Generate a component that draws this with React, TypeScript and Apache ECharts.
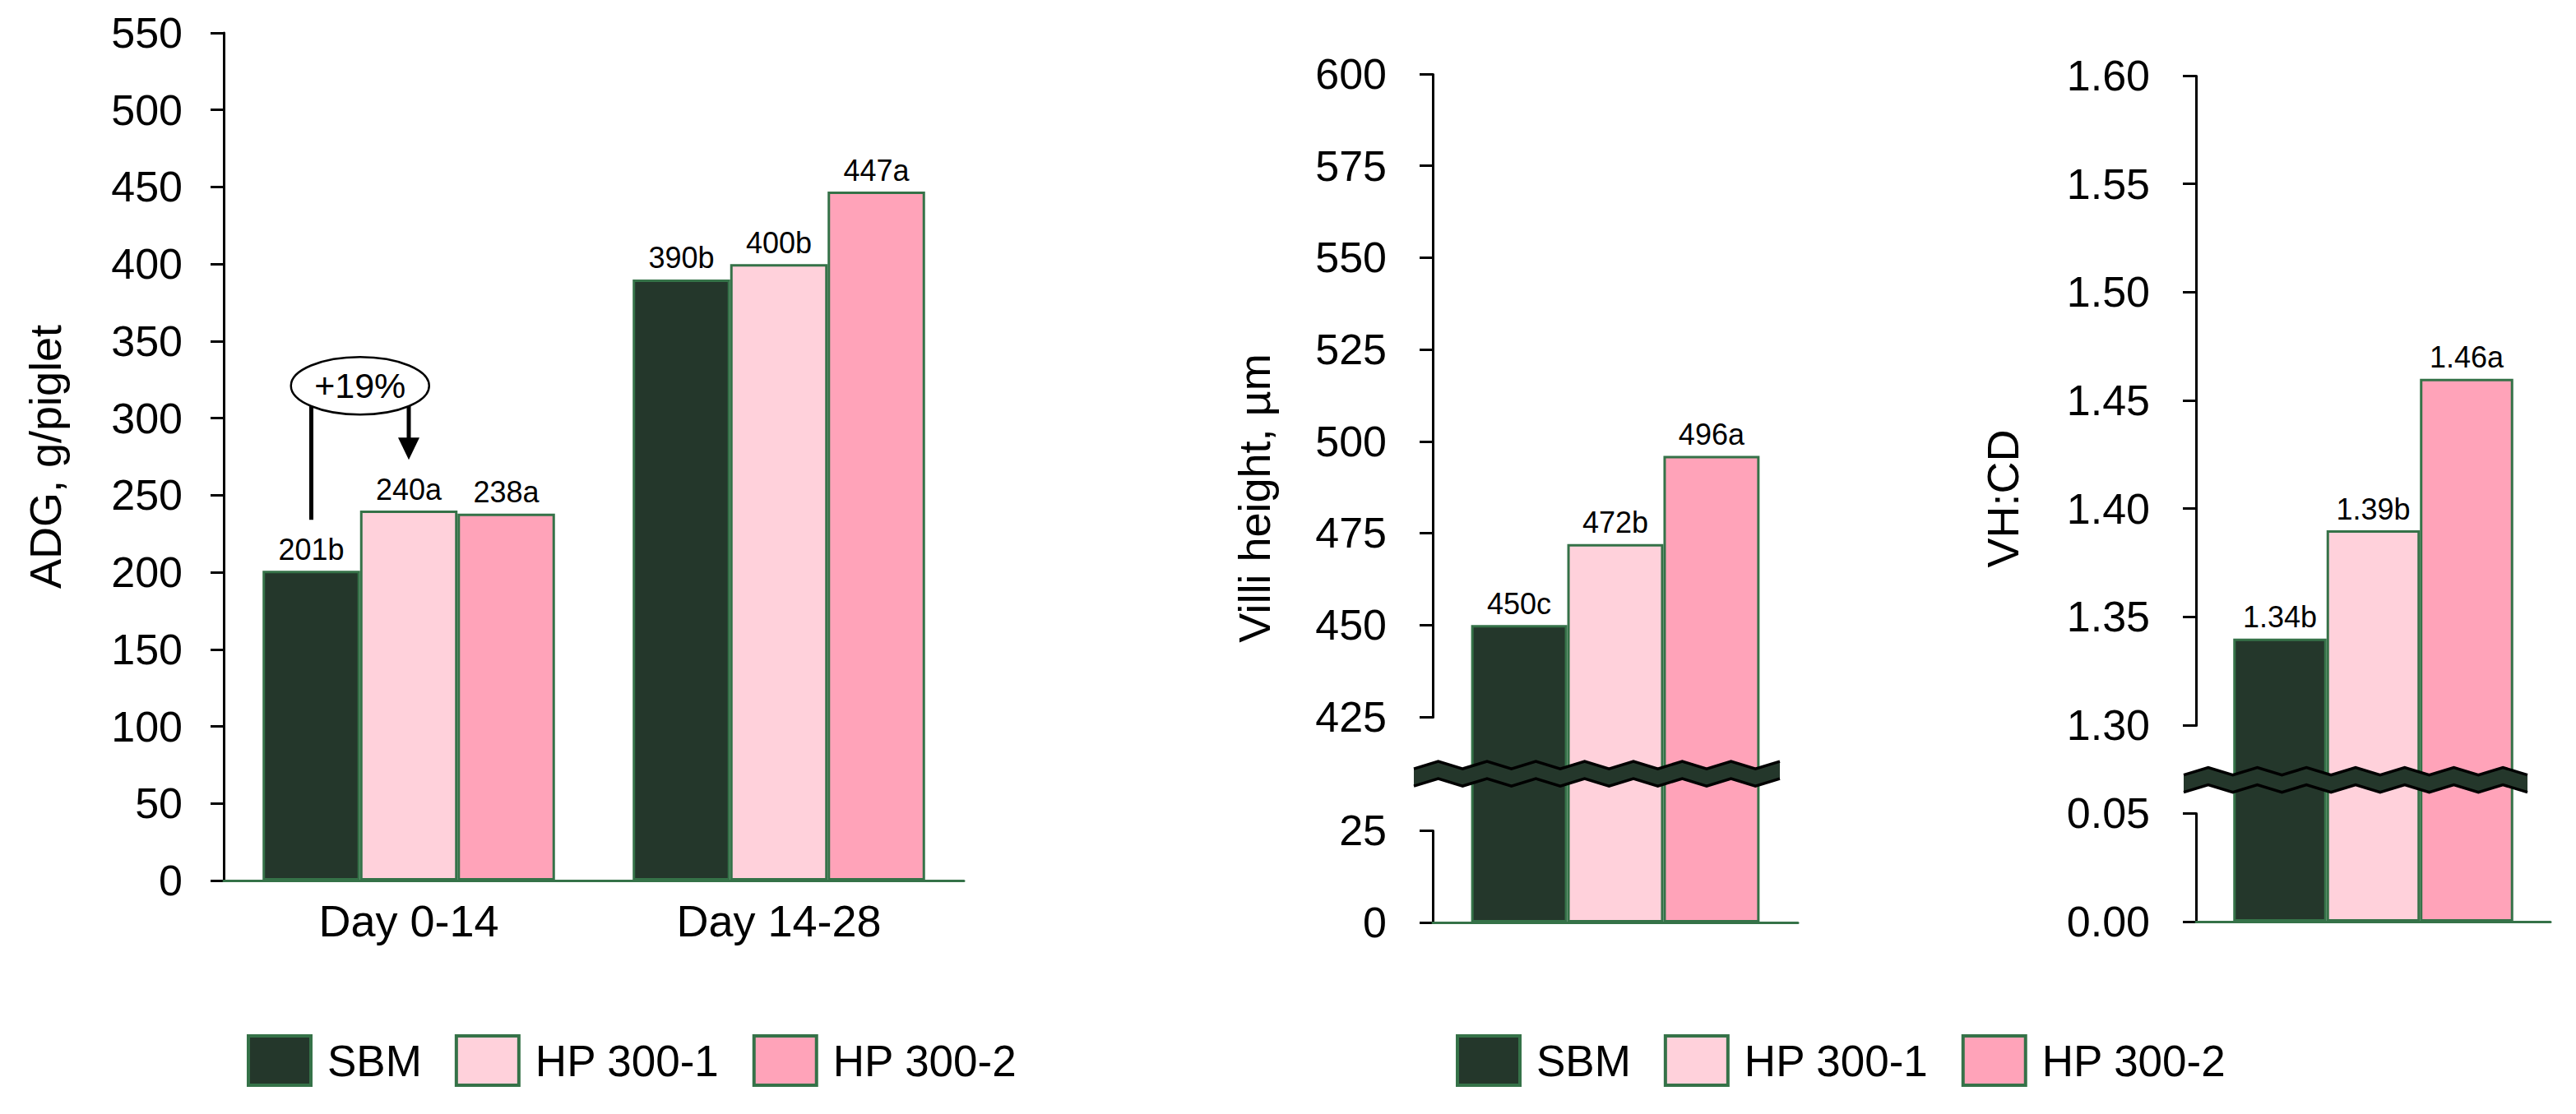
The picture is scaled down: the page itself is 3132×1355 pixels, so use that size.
import React, { useEffect, useRef } from 'react';
import * as echarts from 'echarts';

// ---------------- data ----------------
const seriesNames = ['SBM', 'HP 300-1', 'HP 300-2'];

const adgCategories = ['Day 0-14', 'Day 14-28'];
const adgSBM = [201, 390];
const adgHP1 = [240, 400];
const adgHP2 = [238, 447];
const adgLettersSBM = ['b', 'b'];
const adgLettersHP1 = ['a', 'b'];
const adgLettersHP2 = ['a', 'a'];

const villiCategories = [''];
const villiSBM = [450];
const villiHP1 = [472];
const villiHP2 = [496];
const villiLettersSBM = ['c'];
const villiLettersHP1 = ['b'];
const villiLettersHP2 = ['a'];

const vhcdCategories = [''];
const vhcdSBM = [1.34];
const vhcdHP1 = [1.39];
const vhcdHP2 = [1.46];
const vhcdLettersSBM = ['b'];
const vhcdLettersHP1 = ['b'];
const vhcdLettersHP2 = ['a'];

const axisNames = ['ADG, g/piglet', 'Villi height, µm', 'VH:CD'];
const adgScale = { min: 0, max: 550, interval: 50 };
const villiScale = { min: 0, max: 600, interval: 25, breakStart: 25, breakEnd: 425, gap: 31 };
const vhcdScale = { min: 0, max: 1.6, interval: 0.05, breakStart: 0.05, breakEnd: 1.3, gap: 0.0407 };

// annotation (ADG units)
const annotationText = '+19%';
const annotationCenterValue = 321;
const annotationLineEndValue = 234;
const annotationArrowTipValue = 273;

// ---------------- style ----------------
const FONT = '"Liberation Sans", Arial, sans-serif';
const FILLS = ['#24372b', '#ffd1db', '#ffa3b9'];
const BORDER = '#357248';

export default function App() {
  const ref = useRef<HTMLDivElement>(null);

  useEffect(() => {
    if (!ref.current) return;
    const chart = echarts.init(ref.current, null, { renderer: 'svg' });

    const bar = (name: string, idx: number, data: number[], letters: string[], color: string, digits: number) => ({
      type: 'bar',
      name,
      xAxisIndex: idx,
      yAxisIndex: idx,
      data,
      barGap: '0%',
      barCategoryGap: '21%',
      itemStyle: { color, borderColor: BORDER, borderWidth: 3 },
      label: {
        show: true,
        position: 'top',
        distance: 8,
        fontSize: 36,
        color: '#000',
        fontFamily: FONT,
        formatter: (p: any) => (digits ? Number(p.value).toFixed(digits) : String(p.value)) + letters[p.dataIndex],
      },
      emphasis: { disabled: true },
      z: 2,
    });

    const yAxisBase = (idx: number, name: string, nameGap: number, margin: number) => ({
      type: 'value',
      gridIndex: idx,
      name,
      nameLocation: 'middle',
      nameGap,
      nameTextStyle: { fontSize: 54, color: '#000', fontFamily: FONT },
      axisLine: { show: true, lineStyle: { color: '#000', width: 3 } },
      axisTick: { show: true, length: 16, lineStyle: { color: '#000', width: 3 } },
      splitLine: { show: false },
      axisLabel: { fontSize: 52, color: '#000', margin, fontFamily: FONT },
    });

    const xAxisBase = (idx: number, data: string[], showLabel: boolean) => ({
      type: 'category',
      gridIndex: idx,
      data,
      axisLine: { show: true, onZero: false, lineStyle: { color: BORDER, width: 3 } },
      axisTick: { show: false },
      axisLabel: { show: showLabel, fontSize: 54, color: '#000', margin: 22, fontFamily: FONT },
      z: 3,
    });

    const legend = (left: number) => ({
      data: seriesNames,
      left,
      top: 1253,
      orient: 'horizontal',
      icon: 'rect',
      itemWidth: 76,
      itemHeight: 60,
      itemGap: 40,
      selectedMode: false,
      itemStyle: { borderColor: BORDER, borderWidth: 4 },
      textStyle: { fontSize: 53, color: '#000', fontFamily: FONT, padding: [0, 0, 0, 15] },
    });

    const option: any = {
      animation: false,
      backgroundColor: '#fff',
      textStyle: { fontFamily: FONT },
      grid: [
        { left: 272, top: 40, width: 900, height: 1031 },
        { left: 1742, top: 90, width: 444, height: 1032 },
        { left: 2670, top: 92, width: 431, height: 1029 },
      ],
      legend: [legend(295), legend(1765)],
      xAxis: [
        xAxisBase(0, adgCategories, true),
        xAxisBase(1, villiCategories, false),
        xAxisBase(2, vhcdCategories, false),
      ],
      yAxis: [
        { ...yAxisBase(0, axisNames[0], 190, 50), min: adgScale.min, max: adgScale.max, interval: adgScale.interval },
        {
          ...yAxisBase(1, axisNames[1], 190, 56),
          min: villiScale.min,
          max: villiScale.max,
          interval: villiScale.interval,
          breaks: [{ start: villiScale.breakStart, end: villiScale.breakEnd, gap: villiScale.gap }],
          breakArea: { show: false, expandOnClick: false },
        },
        {
          ...yAxisBase(2, axisNames[2], 208, 56),
          min: vhcdScale.min,
          max: vhcdScale.max,
          interval: vhcdScale.interval,
          breaks: [{ start: vhcdScale.breakStart, end: vhcdScale.breakEnd, gap: vhcdScale.gap }],
          breakArea: { show: false, expandOnClick: false },
          axisLabel: { fontSize: 52, color: '#000', margin: 56, fontFamily: FONT, formatter: (v: number) => v.toFixed(2) },
        },
      ],
      series: [
        bar(seriesNames[0], 0, adgSBM, adgLettersSBM, FILLS[0], 0),
        bar(seriesNames[1], 0, adgHP1, adgLettersHP1, FILLS[1], 0),
        bar(seriesNames[2], 0, adgHP2, adgLettersHP2, FILLS[2], 0),
        bar(seriesNames[0], 1, villiSBM, villiLettersSBM, FILLS[0], 0),
        bar(seriesNames[1], 1, villiHP1, villiLettersHP1, FILLS[1], 0),
        bar(seriesNames[2], 1, villiHP2, villiLettersHP2, FILLS[2], 0),
        bar(seriesNames[0], 2, vhcdSBM, vhcdLettersSBM, FILLS[0], 2),
        bar(seriesNames[1], 2, vhcdHP1, vhcdLettersHP1, FILLS[1], 2),
        bar(seriesNames[2], 2, vhcdHP2, vhcdLettersHP2, FILLS[2], 2),
      ],
    };

    chart.setOption(option);

    // ---- decorations computed from the axes ----
    const graphics: any[] = [];

    const zigzag = (x0: number, x1: number, c: number) => {
      const half = 10.5;
      const amp = 4.5;
      const n = Math.max(1, Math.round((x1 - x0) / 30));
      const step = (x1 - x0) / n;
      const top: number[][] = [];
      const bot: number[][] = [];
      for (let k = 0; k <= n; k++) {
        const d = k % 2 === 0 ? amp : -amp;
        top.push([x0 + k * step, c - half + d]);
        bot.push([x0 + k * step, c + half + d]);
      }
      graphics.push({
        type: 'polygon',
        z: 100,
        shape: { points: top.concat(bot.slice().reverse()) },
        style: { fill: FILLS[0], stroke: null },
      });
      graphics.push({ type: 'polyline', z: 101, shape: { points: top }, style: { stroke: '#000', lineWidth: 3.5, fill: null } });
      graphics.push({ type: 'polyline', z: 101, shape: { points: bot }, style: { stroke: '#000', lineWidth: 3.5, fill: null } });
    };

    try {
      const pA = chart.convertToPixel({ yAxisIndex: 1 } as any, villiScale.breakStart) as number;
      const pB = chart.convertToPixel({ yAxisIndex: 1 } as any, villiScale.breakEnd) as number;
      zigzag(1742 - 23, 1742 + 444 - 22, (pA + pB) / 2);
      const qA = chart.convertToPixel({ yAxisIndex: 2 } as any, vhcdScale.breakStart) as number;
      const qB = chart.convertToPixel({ yAxisIndex: 2 } as any, vhcdScale.breakEnd) as number;
      zigzag(2670 - 15, 2670 + 431 - 28, qA + (qB - qA) * 0.38);

      // +19% annotation
      const c0 = chart.convertToPixel({ xAxisIndex: 0 } as any, 0) as number;
      const c1 = chart.convertToPixel({ xAxisIndex: 0 } as any, 1) as number;
      const band = c1 - c0;
      const barW = (band * 0.79) / 3;
      const xSBM = c0 - barW;
      const xHP1 = c0;
      const yC = chart.convertToPixel({ yAxisIndex: 0 } as any, annotationCenterValue) as number;
      const yEnd = chart.convertToPixel({ yAxisIndex: 0 } as any, annotationLineEndValue) as number;
      const yTip = chart.convertToPixel({ yAxisIndex: 0 } as any, annotationArrowTipValue) as number;
      const cx = (xSBM + xHP1) / 2;
      graphics.push({ type: 'line', z: 100, shape: { x1: xSBM, y1: yC, x2: xSBM, y2: yEnd }, style: { stroke: '#000', lineWidth: 5 } });
      graphics.push({ type: 'line', z: 100, shape: { x1: xHP1, y1: yC, x2: xHP1, y2: yTip - 24 }, style: { stroke: '#000', lineWidth: 5 } });
      graphics.push({
        type: 'polygon',
        z: 100,
        shape: { points: [[xHP1 - 13, yTip - 27], [xHP1 + 13, yTip - 27], [xHP1, yTip]] },
        style: { fill: '#000' },
      });
      graphics.push({
        type: 'ellipse',
        z: 101,
        shape: { cx, cy: yC, rx: 84, ry: 35 },
        style: { fill: '#fff', stroke: '#000', lineWidth: 2.5 },
      });
      graphics.push({
        type: 'text',
        z: 102,
        x: cx,
        y: yC,
        style: { text: annotationText, fontSize: 43, fontFamily: FONT, fill: '#000', align: 'center', verticalAlign: 'middle' },
      });
    } catch (e) {
      // ignore
    }

    chart.setOption({ graphic: graphics });

    return () => chart.dispose();
  }, []);

  return (
    <div
      ref={ref}
      style={{ position: 'fixed', left: 0, top: 0, width: 3132, height: 1355, background: '#fff' }}
    />
  );
}
